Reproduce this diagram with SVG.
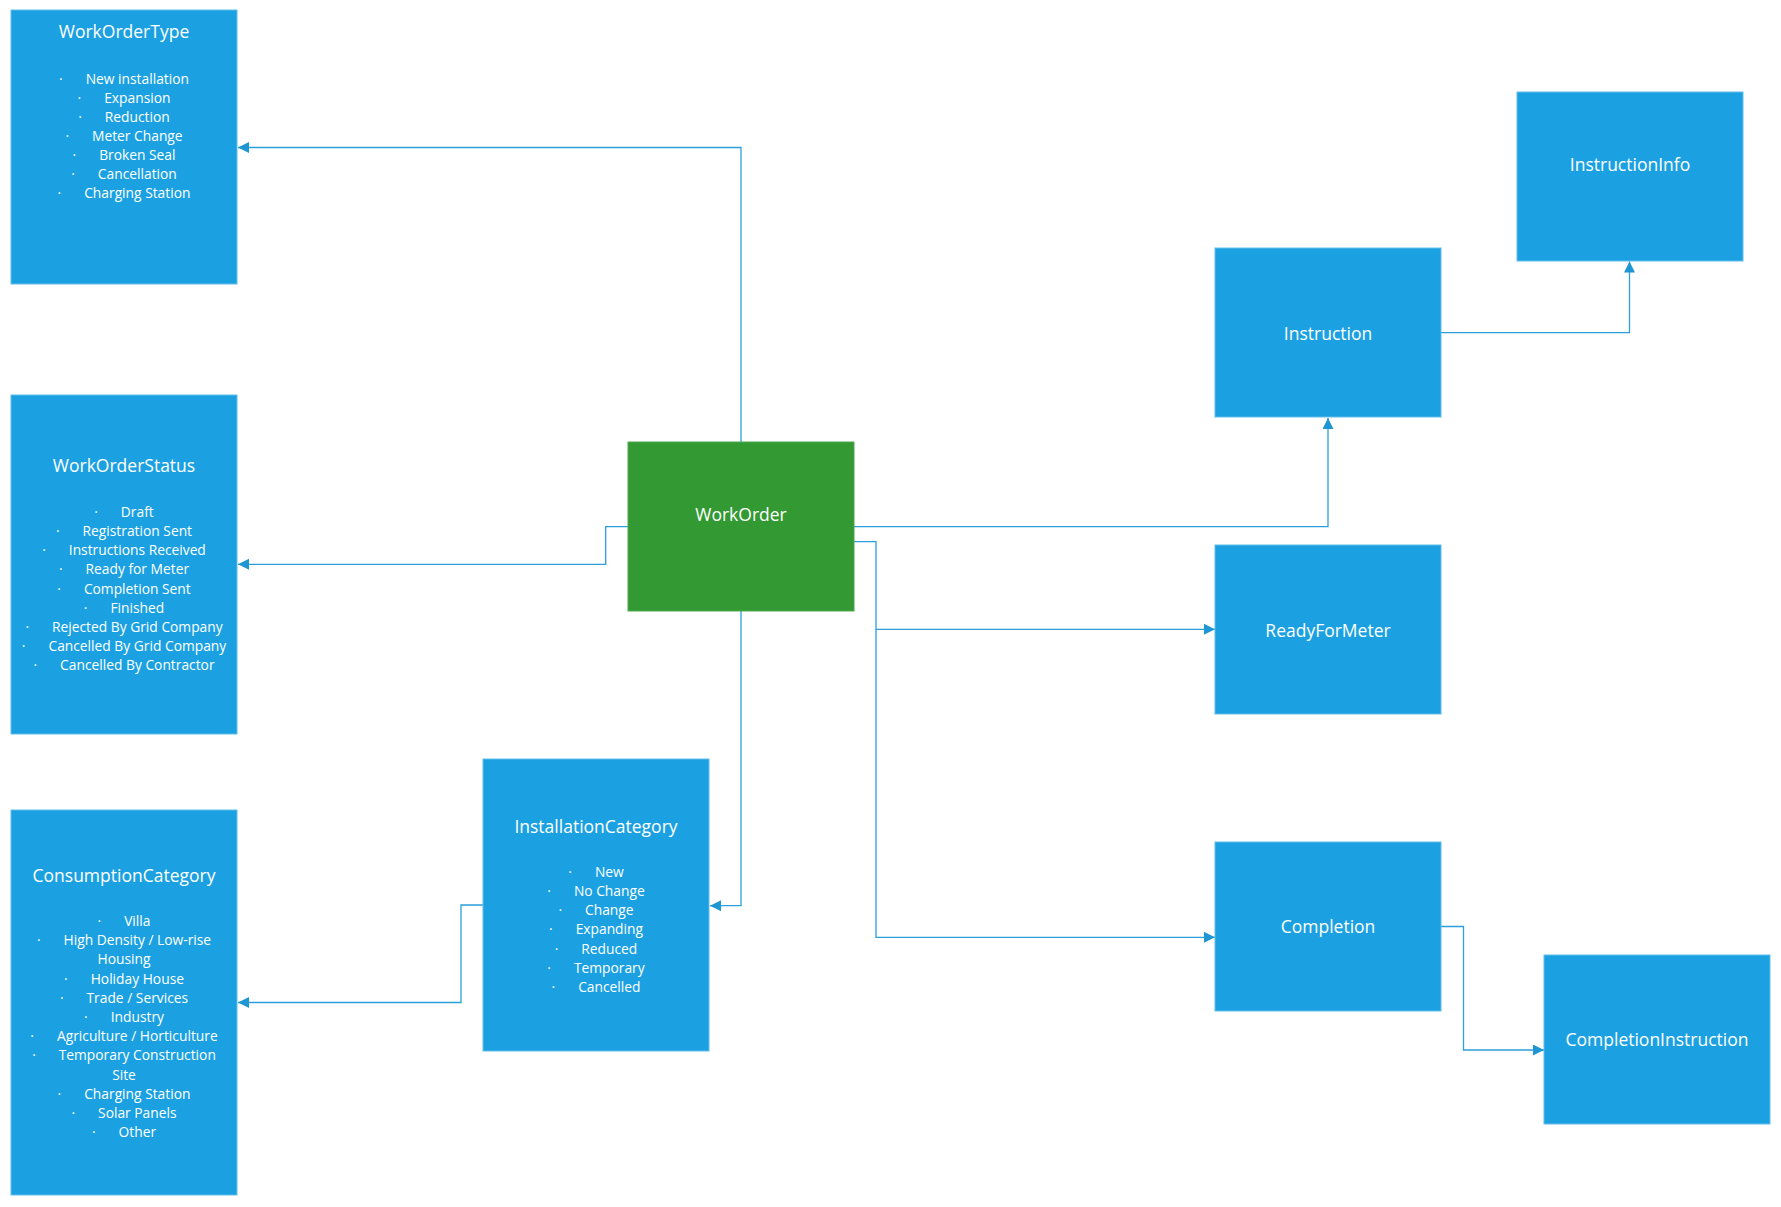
<svg xmlns="http://www.w3.org/2000/svg" width="1781" height="1207" viewBox="0 0 1781 1207">
<style>
.box{fill:#1ba1e2;stroke:#62bdea;stroke-width:1}
.green{fill:#339933;stroke:#4fa94f;stroke-width:1}
.t{font-family:"Open Sans","Noto Sans",sans-serif;fill:#ffffff;text-anchor:middle}
.ti{font-size:17.5px}
.it{font-size:13.8px}
.c{fill:none;stroke:#2b9fda;stroke-width:1.3}
</style>
<defs>
<marker id="ah" markerUnits="userSpaceOnUse" markerWidth="12" markerHeight="12" refX="11" refY="5.5" orient="auto">
<path d="M0,0 L11,5.5 L0,11 z" fill="#1e96d4"/>
</marker>
</defs>
<rect width="1781" height="1207" fill="#ffffff"/>
<g id="connectors">
<path class="c" d="M741,442 V147.5 H238" marker-end="url(#ah)"/>
<path class="c" d="M628,526.7 H605.7 V564.3 H238" marker-end="url(#ah)"/>
<path class="c" d="M741,611 V905.7 H710" marker-end="url(#ah)"/>
<path class="c" d="M483,905 H461 V1002.5 H238" marker-end="url(#ah)"/>
<path class="c" d="M854,526.7 H1328 V418" marker-end="url(#ah)"/>
<path class="c" d="M854,541.7 H876 V629.3 H1215" marker-end="url(#ah)"/>
<path class="c" d="M876,629.3 V937.3 H1215" marker-end="url(#ah)"/>
<path class="c" d="M1441,332.7 H1629.5 V261.5" marker-end="url(#ah)"/>
<path class="c" d="M1441,926.5 H1463.5 V1050 H1544" marker-end="url(#ah)"/>
</g>
<g id="WorkOrderType">
<rect class="box" x="11" y="10" width="226" height="274"/>
<text class="t ti" x="124" y="38">WorkOrderType</text>
<text class="t it" x="124" y="84">·<tspan dx="23">New installation</tspan></text>
<text class="t it" x="124" y="103">·<tspan dx="23">Expansion</tspan></text>
<text class="t it" x="124" y="122">·<tspan dx="23">Reduction</tspan></text>
<text class="t it" x="124" y="141">·<tspan dx="23">Meter Change</tspan></text>
<text class="t it" x="124" y="160">·<tspan dx="23">Broken Seal</tspan></text>
<text class="t it" x="124" y="179">·<tspan dx="23">Cancellation</tspan></text>
<text class="t it" x="124" y="198">·<tspan dx="23">Charging Station</tspan></text>
</g>
<g id="WorkOrderStatus">
<rect class="box" x="11" y="395" width="226" height="339"/>
<text class="t ti" x="124" y="472">WorkOrderStatus</text>
<text class="t it" x="124" y="517">·<tspan dx="23">Draft</tspan></text>
<text class="t it" x="124" y="536">·<tspan dx="23">Registration Sent</tspan></text>
<text class="t it" x="124" y="555">·<tspan dx="23">Instructions Received</tspan></text>
<text class="t it" x="124" y="574">·<tspan dx="23">Ready for Meter</tspan></text>
<text class="t it" x="124" y="594">·<tspan dx="23">Completion Sent</tspan></text>
<text class="t it" x="124" y="613">·<tspan dx="23">Finished</tspan></text>
<text class="t it" x="124" y="632">·<tspan dx="23">Rejected By Grid Company</tspan></text>
<text class="t it" x="124" y="651">·<tspan dx="23">Cancelled By Grid Company</tspan></text>
<text class="t it" x="124" y="670">·<tspan dx="23">Cancelled By Contractor</tspan></text>
</g>
<g id="ConsumptionCategory">
<rect class="box" x="11" y="810" width="226" height="385"/>
<text class="t ti" x="124" y="882">ConsumptionCategory</text>
<text class="t it" x="124" y="926">·<tspan dx="23">Villa</tspan></text>
<text class="t it" x="124" y="945">·<tspan dx="23">High Density / Low-rise</tspan></text>
<text class="t it" x="124" y="964">Housing</text>
<text class="t it" x="124" y="984">·<tspan dx="23">Holiday House</tspan></text>
<text class="t it" x="124" y="1003">·<tspan dx="23">Trade / Services</tspan></text>
<text class="t it" x="124" y="1022">·<tspan dx="23">Industry</tspan></text>
<text class="t it" x="124" y="1041">·<tspan dx="23">Agriculture / Horticulture</tspan></text>
<text class="t it" x="124" y="1060">·<tspan dx="23">Temporary Construction</tspan></text>
<text class="t it" x="124" y="1080">Site</text>
<text class="t it" x="124" y="1099">·<tspan dx="23">Charging Station</tspan></text>
<text class="t it" x="124" y="1118">·<tspan dx="23">Solar Panels</tspan></text>
<text class="t it" x="124" y="1137">·<tspan dx="23">Other</tspan></text>
</g>
<g id="InstallationCategory">
<rect class="box" x="483" y="759" width="226" height="292"/>
<text class="t ti" x="596" y="833">InstallationCategory</text>
<text class="t it" x="596" y="877">·<tspan dx="23">New</tspan></text>
<text class="t it" x="596" y="896">·<tspan dx="23">No Change</tspan></text>
<text class="t it" x="596" y="915">·<tspan dx="23">Change</tspan></text>
<text class="t it" x="596" y="934">·<tspan dx="23">Expanding</tspan></text>
<text class="t it" x="596" y="954">·<tspan dx="23">Reduced</tspan></text>
<text class="t it" x="596" y="973">·<tspan dx="23">Temporary</tspan></text>
<text class="t it" x="596" y="992">·<tspan dx="23">Cancelled</tspan></text>
</g>
<g id="WorkOrder">
<rect class="green" x="628" y="442" width="226" height="169"/>
<text class="t ti" x="741" y="521">WorkOrder</text>
</g>
<g id="Instruction">
<rect class="box" x="1215" y="248" width="226" height="169"/>
<text class="t ti" x="1328" y="339.5">Instruction</text>
</g>
<g id="InstructionInfo">
<rect class="box" x="1517" y="92" width="226" height="169"/>
<text class="t ti" x="1630" y="170.5">InstructionInfo</text>
</g>
<g id="ReadyForMeter">
<rect class="box" x="1215" y="545" width="226" height="169"/>
<text class="t ti" x="1328" y="636.5">ReadyForMeter</text>
</g>
<g id="Completion">
<rect class="box" x="1215" y="842" width="226" height="169"/>
<text class="t ti" x="1328" y="932.5">Completion</text>
</g>
<g id="CompletionInstruction">
<rect class="box" x="1544" y="955" width="226" height="169"/>
<text class="t ti" x="1657" y="1045.5">CompletionInstruction</text>
</g>
</svg>
